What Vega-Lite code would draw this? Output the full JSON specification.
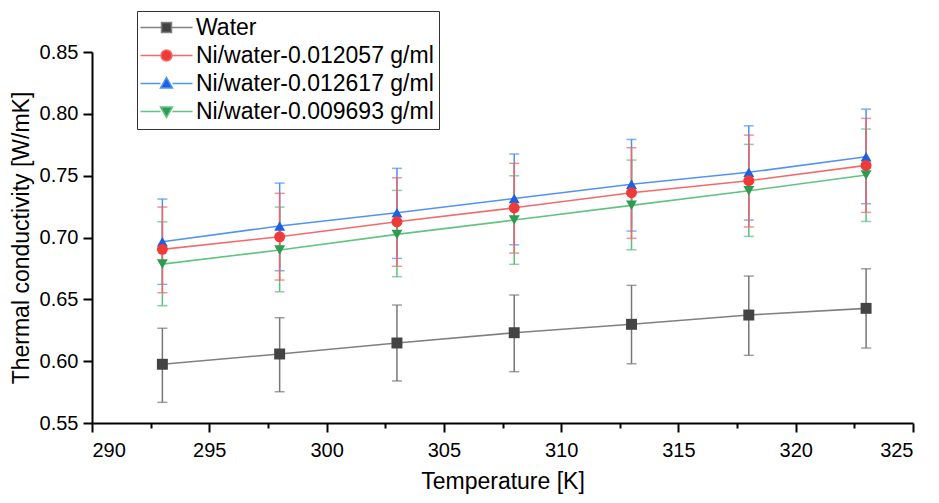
{
  "$schema": "https://vega.github.io/schema/vega-lite/v6.json",
  "width": 821,
  "height": 371,
  "autosize": {"type": "none"},
  "padding": {"left": 92, "top": 52, "right": 26, "bottom": 80},
  "background": "white",
  "config": {
    "view": {"stroke": null},
    "font": "Liberation Sans",
    "axis": {
      "domainColor": "black", "domainWidth": 2, "tickColor": "black", "tickWidth": 2,
      "labelColor": "black", "titleColor": "black", "labelFont": "Liberation Sans", "titleFont": "Liberation Sans",
      "labelFontSize": 20, "titleFontSize": 23, "titleFontWeight": "normal", "grid": false
    }
  },
  "data": {
    "values": [
      {"T": 293, "series": "Water", "k": 0.5975, "lo": 0.5667, "hi": 0.6266},
      {"T": 298, "series": "Water", "k": 0.6058, "lo": 0.5753, "hi": 0.6351},
      {"T": 303, "series": "Water", "k": 0.6147, "lo": 0.5840, "hi": 0.6454},
      {"T": 308, "series": "Water", "k": 0.6230, "lo": 0.5915, "hi": 0.6535},
      {"T": 313, "series": "Water", "k": 0.6298, "lo": 0.5979, "hi": 0.6613},
      {"T": 318, "series": "Water", "k": 0.6373, "lo": 0.6047, "hi": 0.6688},
      {"T": 323, "series": "Water", "k": 0.6427, "lo": 0.6106, "hi": 0.6747},
      {"T": 293, "series": "Ni/water-0.009693 g/ml", "k": 0.6785, "lo": 0.6448, "hi": 0.7127},
      {"T": 298, "series": "Ni/water-0.009693 g/ml", "k": 0.6899, "lo": 0.6561, "hi": 0.7246},
      {"T": 303, "series": "Ni/water-0.009693 g/ml", "k": 0.7025, "lo": 0.6683, "hi": 0.7381},
      {"T": 308, "series": "Ni/water-0.009693 g/ml", "k": 0.7141, "lo": 0.6783, "hi": 0.7499},
      {"T": 313, "series": "Ni/water-0.009693 g/ml", "k": 0.7260, "lo": 0.6901, "hi": 0.7626},
      {"T": 318, "series": "Ni/water-0.009693 g/ml", "k": 0.7378, "lo": 0.7009, "hi": 0.7753},
      {"T": 323, "series": "Ni/water-0.009693 g/ml", "k": 0.7505, "lo": 0.7130, "hi": 0.7877},
      {"T": 293, "series": "Ni/water-0.012617 g/ml", "k": 0.6966, "lo": 0.6621, "hi": 0.7311},
      {"T": 298, "series": "Ni/water-0.012617 g/ml", "k": 0.7093, "lo": 0.6731, "hi": 0.7440},
      {"T": 303, "series": "Ni/water-0.012617 g/ml", "k": 0.7200, "lo": 0.6831, "hi": 0.7559},
      {"T": 308, "series": "Ni/water-0.012617 g/ml", "k": 0.7316, "lo": 0.6941, "hi": 0.7675},
      {"T": 313, "series": "Ni/water-0.012617 g/ml", "k": 0.7430, "lo": 0.7052, "hi": 0.7793},
      {"T": 318, "series": "Ni/water-0.012617 g/ml", "k": 0.7527, "lo": 0.7141, "hi": 0.7903},
      {"T": 323, "series": "Ni/water-0.012617 g/ml", "k": 0.7653, "lo": 0.7273, "hi": 0.8038},
      {"T": 293, "series": "Ni/water-0.012057 g/ml", "k": 0.6904, "lo": 0.6553, "hi": 0.7246},
      {"T": 298, "series": "Ni/water-0.012057 g/ml", "k": 0.7006, "lo": 0.6656, "hi": 0.7357},
      {"T": 303, "series": "Ni/water-0.012057 g/ml", "k": 0.7127, "lo": 0.6767, "hi": 0.7483},
      {"T": 308, "series": "Ni/water-0.012057 g/ml", "k": 0.7240, "lo": 0.6874, "hi": 0.7600},
      {"T": 313, "series": "Ni/water-0.012057 g/ml", "k": 0.7362, "lo": 0.6993, "hi": 0.7726},
      {"T": 318, "series": "Ni/water-0.012057 g/ml", "k": 0.7459, "lo": 0.7085, "hi": 0.7828},
      {"T": 323, "series": "Ni/water-0.012057 g/ml", "k": 0.7583, "lo": 0.7203, "hi": 0.7963}
    ]
  },
  "resolve": {
    "scale": {"color": "independent", "fill": "independent", "stroke": "independent", "shape": "independent"}
  },
  "layer": [
    {
      "mark": {"type": "errorbar", "ticks": {"size": 10}, "thickness": 1.5},
      "encoding": {
        "x": {
          "field": "T", "type": "quantitative", "scale": {"domain": [290, 325], "nice": false, "zero": false},
          "axis": {
            "values": [290, 292.5, 295, 297.5, 300, 302.5, 305, 307.5, 310, 312.5, 315, 317.5, 320, 322.5, 325],
            "tickSize": {"condition": {"test": "datum.value % 5 == 0", "value": 9}, "value": 5},
            "labelExpr": "datum.value % 5 == 0 ? datum.label : ''",
            "labelPadding": 8, "title": "Temperature [K]", "titlePadding": 10
          }
        },
        "y": {
          "field": "lo", "type": "quantitative", "scale": {"domain": [0.55, 0.85], "nice": false, "zero": false},
          "axis": {
            "values": [0.55, 0.575, 0.6, 0.625, 0.65, 0.675, 0.7, 0.725, 0.75, 0.775, 0.8, 0.825, 0.85],
            "format": ".2f",
            "tickSize": {"condition": {"test": "round(datum.value * 1000) % 50 == 0", "value": 9}, "value": 5},
            "labelExpr": "round(datum.value * 1000) % 50 == 0 ? datum.label : ''",
            "labelPadding": 5, "title": "Thermal conductivity [W/mK]", "titlePadding": 6
          }
        },
        "y2": {"field": "hi"},
        "color": {
          "field": "series", "type": "nominal", "legend": null,
          "scale": {
            "domain": ["Water", "Ni/water-0.012057 g/ml", "Ni/water-0.012617 g/ml", "Ni/water-0.009693 g/ml"],
            "range": ["#767676", "#f36464", "#4f8ff0", "#5cbf7d"]
          }
        }
      }
    },
    {
      "mark": {"type": "line", "strokeWidth": 1.6},
      "encoding": {
        "x": {"field": "T", "type": "quantitative", "scale": {"domain": [290, 325], "nice": false, "zero": false}},
        "y": {"field": "k", "type": "quantitative", "scale": {"domain": [0.55, 0.85], "nice": false, "zero": false}},
        "color": {
          "field": "series", "type": "nominal", "legend": null,
          "scale": {
            "domain": ["Water", "Ni/water-0.012057 g/ml", "Ni/water-0.012617 g/ml", "Ni/water-0.009693 g/ml"],
            "range": ["#808080", "#f36a6a", "#5293f2", "#62c483"]
          }
        }
      }
    },
    {
      "mark": {"type": "point", "filled": true, "opacity": 1, "size": 120},
      "encoding": {
        "x": {"field": "T", "type": "quantitative", "scale": {"domain": [290, 325], "nice": false, "zero": false}},
        "y": {"field": "k", "type": "quantitative", "scale": {"domain": [0.55, 0.85], "nice": false, "zero": false}},
        "color": {
          "field": "series", "type": "nominal", "legend": null,
          "scale": {
            "domain": ["Water", "Ni/water-0.012057 g/ml", "Ni/water-0.012617 g/ml", "Ni/water-0.009693 g/ml"],
            "range": ["#434343", "#f03a3a", "#1c62e0", "#2c9c50"]
          }
        },
        "shape": {
          "field": "series", "type": "nominal", "legend": null,
          "scale": {
            "domain": ["Water", "Ni/water-0.012057 g/ml", "Ni/water-0.012617 g/ml", "Ni/water-0.009693 g/ml"],
            "range": ["square", "circle", "triangle-up", "triangle-down"]
          }
        }
      }
    },
    {
      "mark": {"type": "point", "opacity": 0, "strokeWidth": 1.5},
      "encoding": {
        "x": {"field": "T", "type": "quantitative", "scale": {"domain": [290, 325], "nice": false, "zero": false}},
        "y": {"field": "k", "type": "quantitative", "scale": {"domain": [0.55, 0.85], "nice": false, "zero": false}},
        "fill": {
          "field": "series", "type": "nominal",
          "scale": {
            "domain": ["Water", "Ni/water-0.012057 g/ml", "Ni/water-0.012617 g/ml", "Ni/water-0.009693 g/ml"],
            "range": ["#434343", "#f03a3a", "#1c62e0", "#2c9c50"]
          },
          "legend": {
            "title": null, "orient": "none", "legendX": 45, "legendY": -41,
            "strokeColor": "#333333", "padding": 5, "symbolSize": 100, "symbolOffset": 13,
            "labelOffset": 18, "labelFontSize": 23, "labelFont": "Liberation Sans", "labelColor": "black",
            "rowPadding": 4, "symbolStrokeWidth": 1.5, "labelLimit": 400,
            "encode": {"symbols": {"update": {"opacity": {"value": 1}}}}
          }
        },
        "stroke": {
          "field": "series", "type": "nominal",
          "scale": {
            "domain": ["Water", "Ni/water-0.012057 g/ml", "Ni/water-0.012617 g/ml", "Ni/water-0.009693 g/ml"],
            "range": ["#808080", "#f36a6a", "#5293f2", "#62c483"]
          }
        },
        "shape": {
          "field": "series", "type": "nominal",
          "scale": {
            "domain": ["Water", "Ni/water-0.012057 g/ml", "Ni/water-0.012617 g/ml", "Ni/water-0.009693 g/ml"],
            "range": [
              "M-5.2,0H-1M1,0H5.2M-1,-1H1V1H-1Z",
              "M-5.2,0H-1.1M1.1,0H5.2M1.1,0A1.1,1.1,0,1,1,-1.1,0A1.1,1.1,0,1,1,1.1,0Z",
              "M-5.2,0H-1.2M1.2,0H5.2M0,-1.2L1.2,0.9L-1.2,0.9Z",
              "M-5.2,0H-1.2M1.2,0H5.2M0,1.2L1.2,-0.9L-1.2,-0.9Z"
            ]
          }
        }
      }
    }
  ]
}
